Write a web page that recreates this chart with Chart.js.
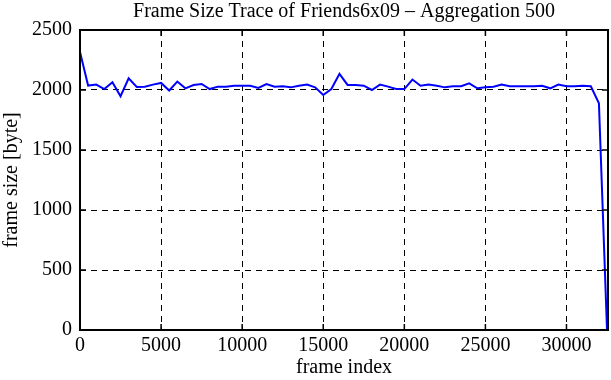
<!DOCTYPE html>
<html>
<head>
<meta charset="utf-8">
<script src="https://cdn.jsdelivr.net/npm/chart.js@4/dist/chart.umd.min.js"></script>
<style>
  html, body { margin: 0; padding: 0; background: #fff; }
  #wrap { width: 611px; height: 380px; }
</style>
</head>
<body>
<div id="wrap"><canvas id="myChart"></canvas></div>
<script>
// frame index of each aggregated point (blocks of 500 frames)
var frameIndex = [0, 500, 1000, 1500, 2000, 2500, 3000, 3500, 4000, 4500,
  5000, 5500, 6000, 6500, 7000, 7500, 8000, 8500, 9000, 9500,
  10000, 10500, 11000, 11500, 12000, 12500, 13000, 13500, 14000, 14500,
  15000, 15500, 16000, 16500, 17000, 17500, 18000, 18500, 19000, 19500,
  20000, 20500, 21000, 21500, 22000, 22500, 23000, 23500, 24000, 24500,
  25000, 25500, 26000, 26500, 27000, 27500, 28000, 28500, 29000, 29500,
  30000, 30500, 31000, 31500, 32000, 32500];

// frame size in byte
var frameSize = [2317, 2037, 2045, 2008, 2065, 1948, 2098, 2025, 2028, 2045,
  2059, 1996, 2070, 2014, 2042, 2050, 2008, 2028, 2028, 2036,
  2036, 2036, 2017, 2050, 2028, 2031, 2022, 2036, 2045, 2022,
  1958, 2008, 2135, 2042, 2042, 2036, 2000, 2045, 2028, 2008,
  2008, 2087, 2036, 2045, 2036, 2022, 2031, 2031, 2056, 2014,
  2022, 2028, 2045, 2031, 2031, 2031, 2031, 2036, 2014, 2045,
  2031, 2031, 2036, 2031, 1890, 0];

var xTicks = [0, 5000, 10000, 15000, 20000, 25000, 30000];
var yTicks = [0, 500, 1000, 1500, 2000, 2500];
var xMax = 32560;

var points = [];
for (let i = 0; i < frameIndex.length; i++) {
  points.push({ x: frameIndex[i], y: frameSize[i] });
}

var serif = "'Liberation Serif', 'DejaVu Serif', serif";

// gnuplot style box with inward tick marks on all four sides
const frameBox = {
  id: 'frameBox',
  afterDatasetsDraw(chart) {
    const ctx = chart.ctx;
    const a = chart.chartArea;
    const xs = chart.scales.x;
    const ys = chart.scales.y;
    ctx.save();
    ctx.strokeStyle = '#000';
    ctx.lineWidth = 2;
    ctx.setLineDash([]);
    ctx.strokeRect(a.left, a.top, a.right - a.left, a.bottom - a.top);
    ctx.lineWidth = 1.5;
    ctx.beginPath();
    xTicks.forEach(v => {
      const px = xs.getPixelForValue(v);
      ctx.moveTo(px, a.bottom); ctx.lineTo(px, a.bottom - 6);
      ctx.moveTo(px, a.top); ctx.lineTo(px, a.top + 6);
    });
    yTicks.forEach(v => {
      const py = ys.getPixelForValue(v);
      ctx.moveTo(a.left, py); ctx.lineTo(a.left + 6, py);
      ctx.moveTo(a.right, py); ctx.lineTo(a.right - 6, py);
    });
    ctx.stroke();
    ctx.restore();
  }
};

var ctx = document.getElementById("myChart");
var myChart = new Chart(ctx, {
  type: "line",
  data: {
    datasets: [
      {
        data: points,
        borderColor: "#0000ff",
        borderWidth: 2,
        pointRadius: 0,
        tension: 0,
        fill: false,
      },
    ],
  },
  options: {
    responsive: true,
    maintainAspectRatio: false,
    animation: false,
    layout: { padding: { left: 0, right: 3, top: 0, bottom: 0 } },
    plugins: {
      legend: { display: false },
      tooltip: { enabled: false },
      title: {
        display: true,
        fullSize: false,
        text: "Frame Size Trace of Friends6x09 \u2013 Aggregation 500",
        color: "#000",
        font: { family: serif, size: 20, weight: "normal" },
        padding: { top: 0, bottom: 6 },
      },
    },
    scales: {
      x: {
        type: "linear",
        min: 0,
        max: xMax,
        afterBuildTicks: (axis) => {
          axis.ticks = xTicks.map(v => ({ value: v }));
        },
        afterFit: (axis) => { axis.height = 50; },
        ticks: {
          color: "#000",
          font: { family: serif, size: 20 },
          padding: 4,
          maxRotation: 0,
          callback: (v) => String(v),
        },
        grid: { color: "#000", lineWidth: 1, drawTicks: false },
        border: { display: false, dash: [6, 5] },
        title: {
          display: true,
          text: "frame index",
          color: "#000",
          font: { family: serif, size: 20 },
          padding: { top: 0, bottom: 0 },
        },
      },
      y: {
        type: "linear",
        min: 0,
        max: 2500,
        afterBuildTicks: (axis) => {
          axis.ticks = yTicks.map(v => ({ value: v }));
        },
        afterFit: (axis) => { axis.width = 80; },
        ticks: {
          color: "#000",
          font: { family: serif, size: 20 },
          padding: 8,
          callback: (v) => String(v),
        },
        grid: { color: "#000", lineWidth: 1, drawTicks: false },
        border: { display: false, dash: [6, 5] },
        title: {
          display: true,
          text: "frame size [byte]",
          color: "#000",
          font: { family: serif, size: 20 },
          padding: { top: 0, bottom: 0 },
        },
      },
    },
  },
  plugins: [frameBox],
});
</script>
</body>
</html>
